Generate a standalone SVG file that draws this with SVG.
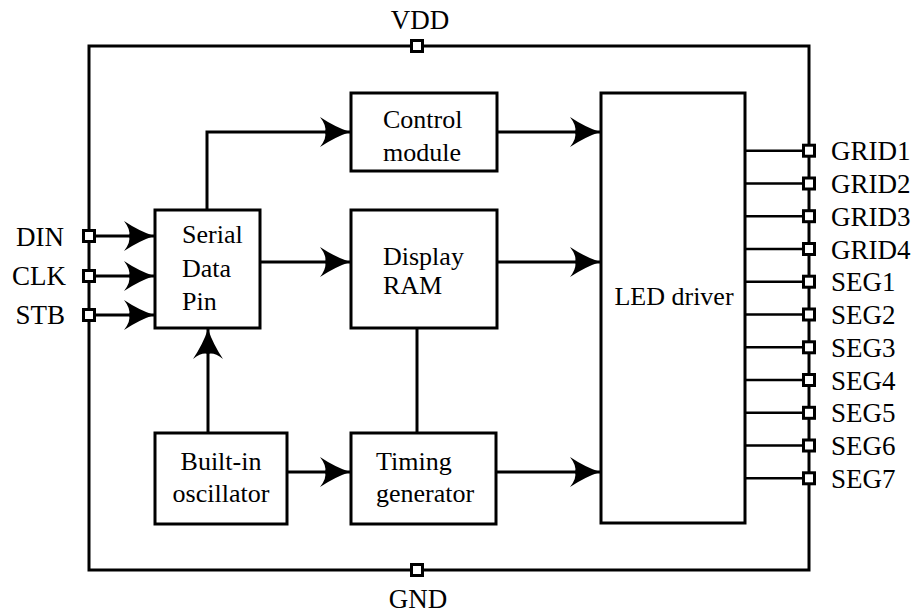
<svg xmlns="http://www.w3.org/2000/svg" width="916" height="613" viewBox="0 0 916 613">
  <style>
    .box { fill: #fff; stroke: #000; stroke-width: 3; }
    .wire { fill: none; stroke: #000; stroke-width: 3; }
    .thin { fill: none; stroke: #000; stroke-width: 2.6; }
    .pin { fill: #fff; stroke: #000; stroke-width: 3; }
    text { font-family: 'Liberation Serif', 'DejaVu Serif', serif; fill: #000; }
    .lbl { font-size: 27px; }
    .txt { font-size: 26px; }
  </style>
  <defs>
    <marker id="arr" markerUnits="userSpaceOnUse" markerWidth="36" markerHeight="36" viewBox="-33 -18 36 36" refX="0" refY="0" orient="auto">
      <path d="M0,0 Q-15,-5 -30,-15 Q-23,-6 -25,0 Q-23,6 -30,15 Q-15,5 0,0 Z" fill="#000"/>
    </marker>
    <rect id="sq" x="-5.5" y="-5.5" width="11" height="11" class="pin"/>
  </defs>
  <rect width="916" height="613" fill="#fff"/>

  <g id="frame">
    <rect x="89" y="46" width="720" height="524" class="wire"/>
  </g>

  <g id="connectors">
    <path class="wire" marker-end="url(#arr)" d="M89,236 H154"/>
    <path class="wire" marker-end="url(#arr)" d="M89,276 H154"/>
    <path class="wire" marker-end="url(#arr)" d="M89,315 H154"/>
    <path class="wire" marker-end="url(#arr)" d="M207,210 V132 H350"/>
    <path class="wire" marker-end="url(#arr)" d="M260,262 H350"/>
    <path class="wire" marker-end="url(#arr)" d="M497,132 H600"/>
    <path class="wire" marker-end="url(#arr)" d="M497,262 H600"/>
    <path class="wire" marker-end="url(#arr)" d="M208,433 V329"/>
    <path class="wire" marker-end="url(#arr)" d="M287,472 H350"/>
    <path class="wire" d="M417,328 V433"/>
    <path class="wire" marker-end="url(#arr)" d="M496,472 H600"/>
    <path class="thin" d="M745,150.7 H809 M745,183.5 H809 M745,216.2 H809 M745,249 H809 M745,281.7 H809 M745,314.5 H809 M745,347.3 H809 M745,380 H809 M745,412.8 H809 M745,445.5 H809 M745,478.3 H809"/>
  </g>

  <g id="serial">
    <rect x="155" y="210" width="105" height="118" class="box"/>
    <text class="txt" x="182" y="243" font-family="Liberation Serif">Serial</text>
    <text class="txt" x="182" y="277" font-family="Liberation Serif">Data</text>
    <text class="txt" x="182" y="310" font-family="Liberation Serif">Pin</text>
  </g>
  <g id="control">
    <rect x="351" y="93" width="146" height="78" class="box"/>
    <text class="txt" x="383" y="128">Control</text>
    <text class="txt" x="383" y="161">module</text>
  </g>
  <g id="display">
    <rect x="351" y="210" width="146" height="118" class="box"/>
    <text class="txt" x="383" y="265">Display</text>
    <text class="txt" x="383" y="294">RAM</text>
  </g>
  <g id="oscillator">
    <rect x="155" y="433" width="132" height="91" class="box"/>
    <text class="txt" x="221" y="470" text-anchor="middle">Built-in</text>
    <text class="txt" x="221" y="502" text-anchor="middle">oscillator</text>
  </g>
  <g id="timing">
    <rect x="351" y="433" width="145" height="91" class="box"/>
    <text class="txt" x="376" y="470">Timing</text>
    <text class="txt" x="376" y="502">generator</text>
  </g>
  <g id="led">
    <rect x="601" y="93" width="144" height="430" class="box"/>
    <text class="txt" x="674" y="305" text-anchor="middle">LED driver</text>
  </g>

  <g id="pins">
    <use href="#sq" x="417" y="46"/>
    <use href="#sq" x="417" y="570"/>
    <use href="#sq" x="89" y="236"/>
    <use href="#sq" x="89" y="276"/>
    <use href="#sq" x="89" y="315"/>
    <use href="#sq" x="809" y="150.7"/>
    <use href="#sq" x="809" y="183.5"/>
    <use href="#sq" x="809" y="216.2"/>
    <use href="#sq" x="809" y="249"/>
    <use href="#sq" x="809" y="281.7"/>
    <use href="#sq" x="809" y="314.5"/>
    <use href="#sq" x="809" y="347.3"/>
    <use href="#sq" x="809" y="380"/>
    <use href="#sq" x="809" y="412.8"/>
    <use href="#sq" x="809" y="445.5"/>
    <use href="#sq" x="809" y="478.3"/>
  </g>

  <g id="labels">
    <text class="lbl" x="420" y="29" text-anchor="middle">VDD</text>
    <text class="lbl" x="418" y="608" text-anchor="middle">GND</text>
    <text class="lbl" x="64" y="246" text-anchor="end">DIN</text>
    <text class="lbl" x="66" y="285" text-anchor="end">CLK</text>
    <text class="lbl" x="65" y="324" text-anchor="end">STB</text>
    <text class="lbl" x="831" y="160.2">GRID1</text>
    <text class="lbl" x="831" y="193">GRID2</text>
    <text class="lbl" x="831" y="225.7">GRID3</text>
    <text class="lbl" x="831" y="258.5">GRID4</text>
    <text class="lbl" x="831" y="291.2">SEG1</text>
    <text class="lbl" x="831" y="324">SEG2</text>
    <text class="lbl" x="831" y="356.8">SEG3</text>
    <text class="lbl" x="831" y="389.5">SEG4</text>
    <text class="lbl" x="831" y="422.3">SEG5</text>
    <text class="lbl" x="831" y="455">SEG6</text>
    <text class="lbl" x="831" y="487.8">SEG7</text>
  </g>
</svg>
